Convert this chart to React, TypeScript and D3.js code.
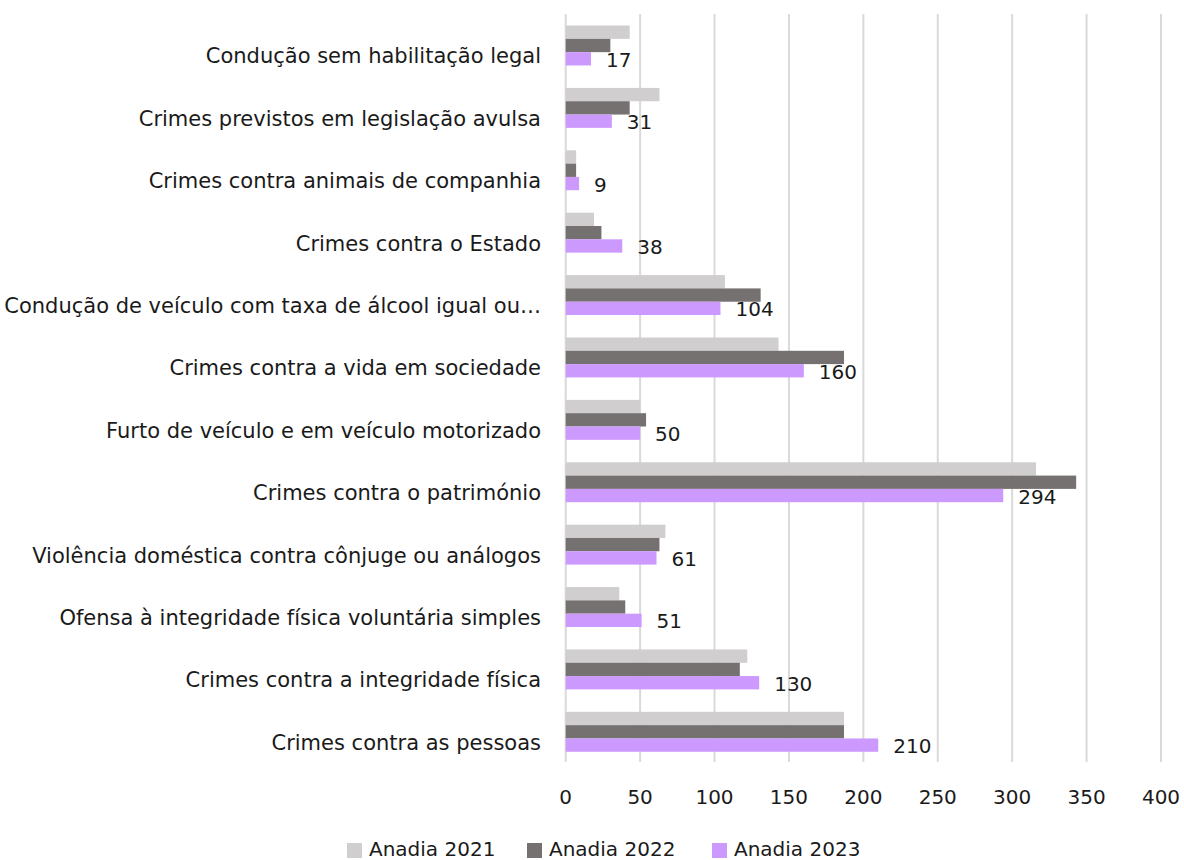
import React from "react";
import * as d3 from "d3";

const categories = [
  "Condução sem habilitação legal",
  "Crimes previstos em legislação avulsa",
  "Crimes contra animais de companhia",
  "Crimes contra o Estado",
  "Condução de veículo com taxa de álcool igual ou…",
  "Crimes contra a vida em sociedade",
  "Furto de veículo e em veículo motorizado",
  "Crimes contra o património",
  "Violência doméstica contra cônjuge ou análogos",
  "Ofensa à integridade física voluntária simples",
  "Crimes contra a integridade física",
  "Crimes contra as pessoas",
];

const series = ["Anadia 2021", "Anadia 2022", "Anadia 2023"];
const values2021 = [43, 63, 7, 19, 107, 143, 50, 316, 67, 36, 122, 187];
const values2022 = [30, 43, 7, 24, 131, 187, 54, 343, 63, 40, 117, 187];
const values2023 = [17, 31, 9, 38, 104, 160, 50, 294, 61, 51, 130, 210];
const xTicks = [0, 50, 100, 150, 200, 250, 300, 350, 400];
const colors = ["#d0cece", "#767171", "#cc99ff"];

const W = 1184;
const H = 860;
const FONT = "'DejaVu Sans', sans-serif";
const FS = 20;

export default function App() {
  const x = d3.scaleLinear().domain([0, 400]).range([565.7, 1161]);
  const y = d3
    .scaleBand<string>()
    .domain(categories)
    .range([14.3, 763])
    .paddingInner(0.36)
    .paddingOuter(0.18);
  const sub = d3.scaleBand<string>().domain(series).range([0, y.bandwidth()]);
  const allValues = [values2021, values2022, values2023];

  return (
    <svg
      width={W}
      height={H}
      style={{ position: "absolute", left: 0, top: 0, background: "#fff" }}
      fontFamily={FONT}
    >
      <rect x={0} y={0} width={W} height={H} fill="#fff" />
      {xTicks.map((t) => (
        <line
          key={"g" + t}
          x1={x(t)}
          x2={x(t)}
          y1={14}
          y2={762}
          stroke="#d9d9d9"
          strokeWidth={2}
        />
      ))}
      {categories.map((c, i) => (
        <g key={c}>
          {series.map((s, k) => (
            <rect
              key={s}
              x={x(0)}
              y={(y(c) as number) + (sub(s) as number)}
              width={x(allValues[k][i]) - x(0)}
              height={sub.bandwidth()}
              fill={colors[k]}
            />
          ))}
          <text
            x={x(values2023[i]) + 15}
            y={(y(c) as number) + (sub("Anadia 2023") as number) + sub.bandwidth() / 2 + 1}
            dominantBaseline="central"
            fontSize={FS}
            fill="#1a1a1a"
          >
            {values2023[i]}
          </text>
          <text
            x={541}
            y={(y(c) as number) + y.bandwidth() / 2 + 11}
            dominantBaseline="central"
            textAnchor="end"
            fontSize={21}
            fill="#1a1a1a"
          >
            {c}
          </text>
        </g>
      ))}
      {xTicks.map((t) => (
        <text
          key={"t" + t}
          x={x(t)}
          y={797}
          textAnchor="middle"
          dominantBaseline="central"
          fontSize={FS}
          fill="#1a1a1a"
        >
          {t}
        </text>
      ))}
      {series.map((s, k) => {
        const lx = [347, 527, 712][k];
        return (
          <g key={s}>
            <rect x={lx} y={843} width={15} height={15} fill={colors[k]} />
            <text x={lx + 22} y={856} fontSize={FS} fill="#1a1a1a">
              {s}
            </text>
          </g>
        );
      })}
    </svg>
  );
}
